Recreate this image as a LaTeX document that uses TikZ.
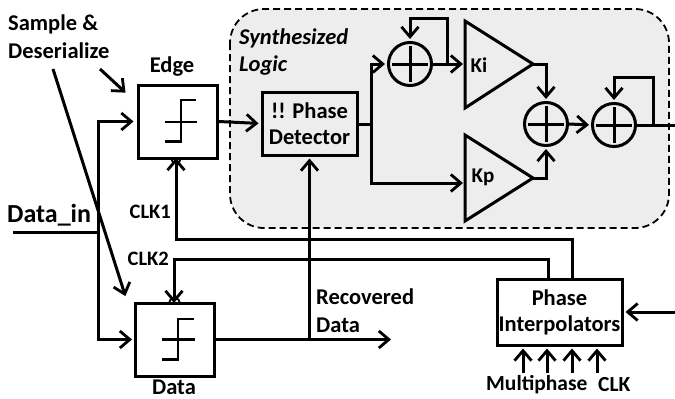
\documentclass[tikz,border=0pt]{standalone}
\usepackage{fontspec}
\setmainfont{Carlito}
\usetikzlibrary{arrows.meta,calc}
\newcommand{\mainsize}{\fontsize{22.5}{26}\selectfont\bfseries}
\tikzset{
  wire/.style={line width=3pt,line join=miter,draw=black},
  arr/.style={wire,shorten >=2pt,-{Straight Barb[length=10pt,width=17pt,line width=2.8pt]}},
  thin wire/.style={line width=2.8pt},
  block/.style={draw,line width=3pt,fill=none,inner sep=0pt,align=center,font=\mainsize},
  ffbox/.style={block,minimum width=79pt,minimum height=73pt},
  sumnode/.style={draw,line width=3pt,circle,minimum size=43pt,inner sep=0pt},
  lbl/.style={inner sep=0pt,font=\mainsize,align=left},
  amp/.style={inner sep=0pt,font=\fontsize{21}{22}\selectfont\bfseries},
  region/.style={draw,line width=1.8pt,dash pattern=on 7pt off 4pt,fill=black!7,rounded corners=34pt}
}
\begin{document}
\begin{tikzpicture}[x=1pt,y=-1pt]
\useasboundingbox (0,0) rectangle (675,399);
\fill[white] (0,0) rectangle (675,399);
% synthesized region
\draw[region] (230,9) rectangle (669,228);
% blocks
\node[ffbox] (edge) at (177.5,121.5) {};
\node[ffbox] (data) at (175,339.5) {};
\node[block,minimum width=95pt,minimum height=63pt] (pd) at (309.5,123.5) {!! Phase\\Detector};
\node[block,minimum width=125pt,minimum height=66pt] (pi) at (559.5,312) {Phase\\Interpolators};
\node[sumnode] (s1) at (410,64) {};
\node[sumnode] (s2) at (546,124) {};
\node[sumnode] (s3) at (614,125) {};
% plus signs
\foreach \s in {s1,s2,s3}{
  \draw[line width=3pt] ($(\s.west)+(5,0)$) -- ($(\s.east)+(-5,0)$);
  \draw[line width=3pt] ($(\s.north)+(0,5)$) -- ($(\s.south)+(0,-5)$);
}
% amplifiers
\coordinate (kia) at (465,21); \coordinate (kib) at (465,108); \coordinate (kio) at (533,64);
\coordinate (kpa) at (465,135); \coordinate (kpb) at (465,221); \coordinate (kpo) at (533,178);
\draw[wire] (kia) -- (kio) -- (kib) -- cycle;
\draw[wire] (kpa) -- (kpo) -- (kpb) -- cycle;
\node[amp] (ki) at (479,65) {Ki};
\node[amp] (kp) at (483,177) {Kp};
% step symbols
\draw[thin wire] (196,100) -- (181,100) -- (181,141.5) -- (165,141.5);
\draw[thin wire] (165,122) -- (197,122);
\draw[thin wire] (194,319) -- (178,319) -- (178,359.5) -- (162,359.5);
\draw[thin wire] (162,339.5) -- (195,339.5);
% clock bubbles
\draw[line width=1.8pt] (171,158) arc (180:0:5 and 5);
\draw[line width=1.8pt] (169,303) arc (180:360:5.5 and 5);
% coordinates for routing
\coordinate (datain) at (13,232);
\coordinate (split) at (98,232);
\coordinate (dtap) at (371,124);
\coordinate (rtap) at (309.5,339.5);
\coordinate (dend) at (393,339.5);
\coordinate (piend) at (675,312);
\coordinate (outend) at (675,125);
% input
\draw[wire] (datain) -- (split);
\draw[arr,shorten >=3pt] (split) |- (edge.west);
\draw[arr] (split) |- (data.west);
% edge to detector, detector to integrator
\draw[arr] (edge.east) -- (pd.west);
\draw[wire] (pd.east|-dtap) -- (dtap);
\draw[arr] (dtap) |- (s1.west);
\draw[arr] (dtap) |- (465,183);
\draw[arr] (s1.east) -- (465,64);
\coordinate (fb1) at (447,64);
\draw[arr] (fb1) |- (410,18) -- (s1.north);
\draw[arr] (kio) -| (s2.north);
\draw[arr] (kpo) -| (s2.south);
\draw[arr] (s2.east) -- (s3.west);
\draw[wire] (s3.east) -- (outend);
\coordinate (fb2) at (653,125);
\draw[arr] (fb2) |- (614,77) -- (s3.north);
% data out
\draw[arr] (data.east) -- (dend);
\draw[arr] (rtap) -- (pd.south);
% clocks
\coordinate (c1) at (572,279);
\coordinate (c2) at (548,279);
\draw[arr,shorten >=0pt] (c1) |- (176,239) -- (176,158);
\draw[arr,shorten >=0pt] (c2) |- (174,259) -- (174,303);
\draw[arr] (piend) -- (pi.east);
\foreach \x in {523,547,572,597}{
  \draw[arr] (\x,373) -- (\x,346.5);
}
% annotation arrows
\coordinate (ann1) at (53,69);
\coordinate (ann1e) at (126,298);
\coordinate (ann2) at (100,69);
\coordinate (ann2e) at (127,94);
\draw[arr] (ann1) -- (ann1e);
\draw[arr] (ann2) -- (ann2e);
% labels
\node[lbl,anchor=west] (t1) at (8,24) {Sample \&};
\node[lbl,anchor=west] (t2) at (8,51) {Deserialize};
\node[lbl] (t3) at (172,67) {Edge};
\node[lbl] (t4) at (174,387) {Data};
\node[lbl,anchor=west,font=\mainsize\itshape] (t5) at (239,38) {Synthesized};
\node[lbl,anchor=west,font=\mainsize\itshape] (t6) at (239,65) {Logic};
\node[lbl,anchor=west,font=\fontsize{26}{28}\selectfont\bfseries] (t7) at (7,215) {Data\_in};
\node[lbl,anchor=east,font=\fontsize{20.5}{22}\selectfont\bfseries] (t8) at (171,212) {CLK1};
\node[lbl,anchor=east,font=\fontsize{20.5}{22}\selectfont\bfseries] (t9) at (169,259) {CLK2};
\node[lbl,anchor=west] (t10) at (316,297) {Recovered};
\node[lbl,anchor=west] (t11) at (316,325) {Data};
\node[lbl,anchor=west,font=\fontsize{21.5}{24}\selectfont\bfseries] (t12) at (486,385) {Multiphase};
\node[lbl,anchor=west,font=\fontsize{21.5}{24}\selectfont\bfseries] (t13) at (598,385) {CLK};
\end{tikzpicture}
\end{document}
